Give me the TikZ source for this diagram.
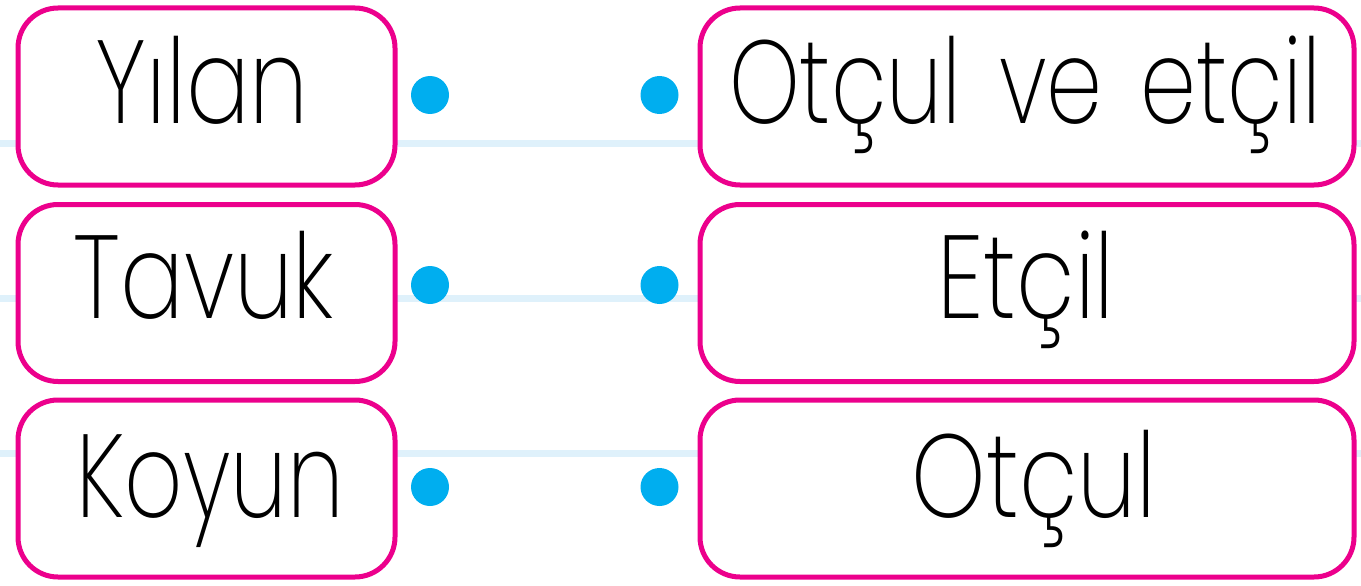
\documentclass[tikz,border=0pt]{standalone}
\usepackage{fontspec}
\setmainfont{Poppins}[UprightFont=* ExtraLight]
\definecolor{boxpink}{HTML}{EC008C}
\definecolor{dotblue}{HTML}{00AEEF}
\definecolor{guideblue}{HTML}{DFF1FB}
\newcommand{\narrowtxt}[2][0.8]{\scalebox{#1}[1]{#2}}
\tikzset{
  pbox/.style={draw=boxpink, line width=5pt, rounded corners=40pt, fill=white, minimum height=177pt, inner sep=0pt},
  lbox/.style={pbox, minimum width=377pt},
  rbox/.style={pbox, minimum width=654pt},
  dotnode/.style={circle, fill=dotblue, minimum size=38pt, inner sep=0pt},
  guide/.style={draw=guideblue, line width=7pt},
  lbl/.style={anchor=base, inner sep=0pt, font=\fontsize{118}{130}\selectfont}
}
\begin{document}
\begin{tikzpicture}[x=1pt,y=-1pt]
\useasboundingbox (0,0) rectangle (1361,586);
% guide lines
\coordinate (g1a) at (0,143.7); \coordinate (g1b) at (1361,143.7);
\coordinate (g2a) at (0,298.8); \coordinate (g2b) at (1361,298.8);
\coordinate (g3a) at (0,453.8); \coordinate (g3b) at (1361,453.8);
\draw[guide] (g1a) -- (g1b);
\draw[guide] (g2a) -- (g2b);
\draw[guide] (g3a) -- (g3b);
% boxes
\node[lbox] (L1) at (206.5,96.5) {};
\node[lbox] (L2) at (206.5,293) {};
\node[lbox] (L3) at (206.5,488.5) {};
\node[rbox] (R1) at (1027,96.5) {};
\node[rbox] (R2) at (1027,293) {};
\node[rbox] (R3) at (1027,488.5) {};
% labels
\node[lbl] (tL1) at (202,123) {\narrowtxt{Yılan}};
\node[lbl] (tL2) at (204,318) {\narrowtxt{Tavuk}};
\node[lbl] (tL3) at (210,517) {\narrowtxt[0.77]{Koyun}};
\node[lbl] (tR1) at (1025,123) {\narrowtxt[0.76]{Otçul\hspace{0.42em}ve\hspace{0.42em}etçil}};
\node[lbl] (tR2) at (1026,318) {\narrowtxt{Etçil}};
\node[lbl] (tR3) at (1034,517) {\narrowtxt{Otçul}};
% dots
\node[dotnode] (dL1) at (430,95) {};
\node[dotnode] (dL2) at (430,285) {};
\node[dotnode] (dL3) at (430,487) {};
\node[dotnode] (dR1) at (659.5,95) {};
\node[dotnode] (dR2) at (659.5,285) {};
\node[dotnode] (dR3) at (659.5,487) {};
\end{tikzpicture}
\end{document}
